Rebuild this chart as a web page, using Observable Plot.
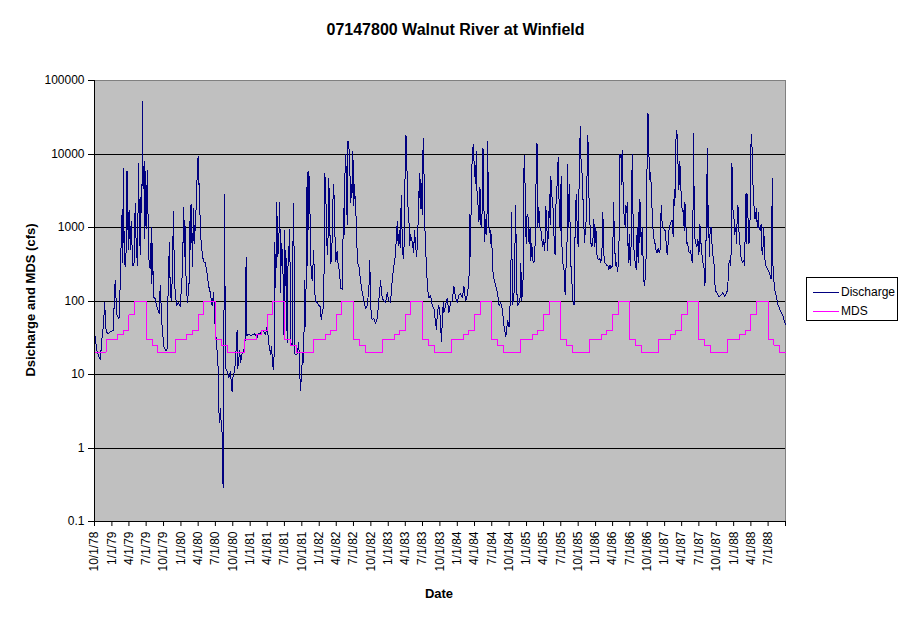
<!DOCTYPE html>
<html><head><meta charset="utf-8">
<script src="https://cdn.jsdelivr.net/npm/d3@7"></script>
<script src="https://cdn.jsdelivr.net/npm/@observablehq/plot@0.6"></script>
<style>
body{margin:0;background:#fff;font-family:Arial,"Liberation Sans",sans-serif;}
#wrap{position:relative;width:911px;height:623px;overflow:hidden;background:#fff}
#chart{position:absolute;left:0;top:0}
.t{position:absolute;font-weight:bold;color:#000;white-space:nowrap;font-family:Arial,"Liberation Sans",sans-serif}
#legend{position:absolute;left:806px;top:277px;width:90px;height:42px;border:1px solid #000;background:#fff;font-size:12px;font-family:Arial,"Liberation Sans",sans-serif}
#legend .row{position:absolute;left:6px;height:14px;line-height:14px}
#legend .sw{display:inline-block;width:26px;height:0;border-top:1px solid;vertical-align:middle;margin-right:2px}
</style></head><body>
<div id="wrap">
  <div id="chart"></div>
  <div class="t" style="left:0;width:911px;text-align:center;top:21px;font-size:16px">07147800 Walnut River at Winfield</div>
  <div class="t" style="left:30px;top:300px;font-size:13px;transform:translate(-50%,-50%) rotate(-90deg)">Dsicharge and MDS (cfs)</div>
  <div class="t" style="left:439px;top:586px;font-size:13px;transform:translateX(-50%)">Date</div>
  <div id="legend">
    <div class="row" style="top:7px"><span class="sw" style="border-color:#000080"></span>Discharge</div>
    <div class="row" style="top:26px"><span class="sw" style="border-color:#FF00FF"></span>MDS</div>
  </div>
</div>
<script>
// Tick labels
const xTickLabels = ["10/1/78","1/1/79","4/1/79","7/1/79","10/1/79","1/1/80","4/1/80","7/1/80","10/1/80","1/1/81","4/1/81","7/1/81","10/1/81","1/1/82","4/1/82","7/1/82","10/1/82","1/1/83","4/1/83","7/1/83","10/1/83","1/1/84","4/1/84","7/1/84","10/1/84","1/1/85","4/1/85","7/1/85","10/1/85","1/1/86","4/1/86","7/1/86","10/1/86","1/1/87","4/1/87","7/1/87","10/1/87","1/1/88","4/1/88","7/1/88"];
const xEndLabel = "10/1/88";
const yTicks = [0.1, 1, 10, 100, 1000, 10000, 100000];
const yGrid = [1, 10, 100, 1000, 10000];

// MDS schedule by month of water year (Oct..Sep), cfs
const mdsMonths = ["Oct","Nov","Dec","Jan","Feb","Mar","Apr","May","Jun","Jul","Aug","Sep"];
const mdsCfs =    [20,   20,   30,   30,   35,   40,   65,   100,  100,  30,   25,   20];
const waterYears = [1979,1980,1981,1982,1983,1984,1985,1986,1987,1988];

// Daily discharge (cfs); [decimal year, cfs]
const wy1979 = [[1978.753,35],[1978.782,21],[1978.808,18],[1978.830,16],[1978.844,22],[1978.854,30],[1978.878,47],[1978.895,95],[1978.917,38],[1978.946,36],[1978.975,38],[1979.018,40],[1979.047,190],[1979.072,65],[1979.095,58],[1979.110,60],[1979.120,190],[1979.127,270],[1979.134,680],[1979.149,1780],[1979.159,330],[1979.168,6300],[1979.178,450],[1979.192,290],[1979.207,500],[1979.217,5800],[1979.226,5600],[1979.236,500],[1979.246,1600],[1979.255,1700],[1979.265,500],[1979.279,1200],[1979.294,500],[1979.304,300],[1979.323,330],[1979.337,2100],[1979.352,560],[1979.371,300],[1979.385,7400],[1979.395,1800],[1979.410,430],[1979.424,3800],[1979.434,1600],[1979.443,51000],[1979.453,3400],[1979.468,8000],[1979.478,700],[1979.487,5800],[1979.497,980],[1979.507,3400],[1979.516,6000],[1979.526,850],[1979.540,310],[1979.555,280],[1979.574,1000],[1979.579,175],[1979.588,600],[1979.603,112],[1979.627,108],[1979.652,83],[1979.685,68],[1979.700,165],[1979.724,50],[1979.743,30]];
const wy1980 = [[1979.757,23],[1979.786,21],[1979.805,23],[1979.815,190],[1979.834,620],[1979.844,150],[1979.859,100],[1979.873,190],[1979.892,1650],[1979.902,340],[1979.917,120],[1979.941,87],[1979.960,95],[1979.989,84],[1980.014,194],[1980.025,300],[1980.037,1900],[1980.047,400],[1980.057,1250],[1980.076,160],[1980.095,95],[1980.120,190],[1980.134,2000],[1980.144,500],[1980.153,2050],[1980.168,290],[1980.182,1800],[1980.197,600],[1980.211,1450],[1980.226,2100],[1980.236,7100],[1980.250,9400],[1980.260,3800],[1980.269,4000],[1980.279,850],[1980.294,620],[1980.308,430],[1980.318,380],[1980.337,330],[1980.352,330],[1980.376,240],[1980.400,160],[1980.424,130],[1980.449,87],[1980.472,130],[1980.497,39],[1980.511,30],[1980.526,18],[1980.540,11],[1980.545,3.6],[1980.559,2.2],[1980.569,3.5],[1980.584,2.0],[1980.594,1.6],[1980.603,1.0],[1980.608,0.29],[1980.617,1.5],[1980.627,2800],[1980.635,300],[1980.642,12.6],[1980.666,11],[1980.690,9],[1980.714,11],[1980.739,5.8],[1980.753,9.5]];
const wy1981 = [[1980.772,11],[1980.786,14.5],[1980.811,40],[1980.820,12],[1980.849,21.5],[1980.859,14.5],[1980.883,19],[1980.907,21],[1980.931,32],[1980.941,390],[1980.950,34],[1980.975,35],[1981.018,34],[1981.062,36],[1981.101,32],[1981.124,36],[1981.149,36],[1981.173,40],[1981.197,38],[1981.221,35],[1981.246,45],[1981.269,27],[1981.294,19],[1981.308,24],[1981.333,12],[1981.342,11.5],[1981.352,40],[1981.356,620],[1981.371,150],[1981.385,2200],[1981.400,400],[1981.414,600],[1981.429,2200],[1981.439,130],[1981.453,600],[1981.472,420],[1981.487,35],[1981.501,900],[1981.511,160],[1981.518,460],[1981.536,27],[1981.545,260],[1981.574,930],[1981.584,27],[1981.608,25],[1981.617,460],[1981.632,2100],[1981.642,19],[1981.681,19],[1981.704,27],[1981.719,10],[1981.729,6],[1981.753,14.5]];
const wy1982 = [[1981.767,21],[1981.776,14.5],[1981.786,190],[1981.801,45],[1981.815,360],[1981.825,5600],[1981.834,300],[1981.844,5800],[1981.859,4500],[1981.873,620],[1981.883,250],[1981.898,190],[1981.921,480],[1981.931,150],[1981.946,100],[1981.970,95],[1981.994,87],[1982.018,84],[1982.028,55],[1982.043,70],[1982.066,87],[1982.081,5500],[1982.095,3000],[1982.110,600],[1982.124,430],[1982.139,4700],[1982.153,1000],[1982.168,320],[1982.182,430],[1982.197,2200],[1982.211,3800],[1982.226,900],[1982.240,340],[1982.260,480],[1982.275,300],[1982.294,260],[1982.308,150],[1982.333,145],[1982.342,500],[1982.352,1800],[1982.366,800],[1982.376,10000],[1982.391,6300],[1982.405,1100],[1982.414,14700],[1982.429,14700],[1982.439,6300],[1982.449,4500],[1982.458,2200],[1982.468,3800],[1982.478,3000],[1982.487,11000],[1982.501,2000],[1982.511,3800],[1982.521,2400],[1982.530,1800],[1982.540,800],[1982.555,330],[1982.574,300],[1982.598,190],[1982.613,150],[1982.646,100],[1982.671,80],[1982.695,87],[1982.719,145],[1982.733,360],[1982.743,87]];
const wy1983 = [[1982.767,55],[1982.791,58],[1982.815,50],[1982.840,58],[1982.863,100],[1982.888,190],[1982.912,110],[1982.936,100],[1982.960,95],[1982.985,130],[1983.008,100],[1983.033,95],[1983.057,190],[1983.081,300],[1983.095,360],[1983.115,640],[1983.130,1200],[1983.144,560],[1983.159,900],[1983.173,530],[1983.188,2700],[1983.197,1100],[1983.211,430],[1983.226,380],[1983.240,3400],[1983.255,18000],[1983.265,17000],[1983.275,3400],[1983.284,2000],[1983.298,1500],[1983.308,560],[1983.323,800],[1983.337,700],[1983.352,600],[1983.366,460],[1983.381,900],[1983.395,600],[1983.410,400],[1983.424,650],[1983.443,2700],[1983.453,5500],[1983.463,1800],[1983.472,4500],[1983.482,2600],[1983.492,1500],[1983.501,10000],[1983.511,16000],[1983.526,1400],[1983.540,500],[1983.555,300],[1983.565,160],[1983.588,110],[1983.613,120],[1983.637,87],[1983.661,80],[1983.685,50],[1983.700,41],[1983.710,70],[1983.733,87]];
const wy1984 = [[1983.758,55],[1983.768,28],[1983.782,50],[1983.796,95],[1983.805,70],[1983.830,87],[1983.854,110],[1983.878,70],[1983.902,95],[1983.927,100],[1983.950,160],[1983.975,110],[1983.999,95],[1984.022,120],[1984.047,125],[1984.072,110],[1984.095,160],[1984.120,100],[1984.144,120],[1984.168,190],[1984.182,1500],[1984.192,400],[1984.202,3300],[1984.211,7000],[1984.226,12500],[1984.236,13500],[1984.246,5000],[1984.255,7500],[1984.265,4000],[1984.275,11000],[1984.284,3200],[1984.294,2300],[1984.304,1800],[1984.313,1200],[1984.323,3500],[1984.333,3100],[1984.342,1100],[1984.352,1000],[1984.362,2400],[1984.371,12000],[1984.381,4000],[1984.391,650],[1984.400,800],[1984.410,1300],[1984.420,800],[1984.429,1500],[1984.439,14700],[1984.449,1800],[1984.458,1000],[1984.468,850],[1984.478,900],[1984.487,600],[1984.497,800],[1984.507,300],[1984.516,250],[1984.530,200],[1984.555,160],[1984.579,130],[1984.603,87],[1984.627,95],[1984.652,75],[1984.675,45],[1984.700,33],[1984.714,40],[1984.724,55],[1984.747,45]];
const wy1985 = [[1984.762,87],[1984.772,150],[1984.782,1600],[1984.791,320],[1984.801,90],[1984.820,130],[1984.844,2000],[1984.854,190],[1984.869,87],[1984.892,95],[1984.907,110],[1984.917,320],[1984.931,100],[1984.950,200],[1984.965,9500],[1984.979,3800],[1984.994,600],[1985.008,1500],[1985.022,1400],[1985.037,600],[1985.052,1000],[1985.062,360],[1985.076,600],[1985.091,360],[1985.105,330],[1985.120,400],[1985.134,2000],[1985.144,14000],[1985.153,13500],[1985.163,1000],[1985.178,1900],[1985.192,1000],[1985.207,950],[1985.221,700],[1985.236,550],[1985.250,680],[1985.265,480],[1985.279,1950],[1985.294,1100],[1985.304,480],[1985.318,1000],[1985.333,2800],[1985.342,1100],[1985.352,4900],[1985.366,2800],[1985.381,2000],[1985.391,1400],[1985.400,620],[1985.414,420],[1985.429,2800],[1985.443,3800],[1985.458,8900],[1985.472,2000],[1985.487,900],[1985.501,4900],[1985.511,620],[1985.526,330],[1985.545,260],[1985.559,120],[1985.569,280],[1985.584,300],[1985.594,7200],[1985.608,1000],[1985.623,3800],[1985.637,330],[1985.652,260],[1985.666,105],[1985.690,88],[1985.704,1000],[1985.719,2800],[1985.733,1100],[1985.747,550]];
const wy1986 = [[1985.757,2000],[1985.767,11000],[1985.782,24000],[1985.791,6300],[1985.801,5800],[1985.811,4500],[1985.820,2000],[1985.830,1100],[1985.840,620],[1985.854,1000],[1985.869,1400],[1985.883,18000],[1985.892,14000],[1985.902,3000],[1985.917,1200],[1985.931,620],[1985.946,550],[1985.960,620],[1985.975,1300],[1985.989,550],[1986.004,1000],[1986.018,430],[1986.033,380],[1986.047,360],[1986.062,380],[1986.076,330],[1986.091,430],[1986.105,1600],[1986.120,430],[1986.134,330],[1986.149,320],[1986.163,300],[1986.178,300],[1986.192,270],[1986.207,310],[1986.221,280],[1986.246,300],[1986.260,2200],[1986.275,620],[1986.289,300],[1986.304,330],[1986.318,250],[1986.337,380],[1986.352,9800],[1986.362,9000],[1986.371,10000],[1986.381,3800],[1986.391,11000],[1986.400,2800],[1986.410,1600],[1986.420,1300],[1986.429,1000],[1986.439,2000],[1986.449,1600],[1986.458,2200],[1986.468,620],[1986.478,330],[1986.487,800],[1986.501,300],[1986.516,620],[1986.530,9800],[1986.545,1000],[1986.559,430],[1986.574,330],[1986.588,270],[1986.603,1000],[1986.617,330],[1986.632,2400],[1986.642,620],[1986.652,2200],[1986.661,430],[1986.675,1000],[1986.690,330],[1986.704,160],[1986.719,200],[1986.733,430],[1986.747,10000]];
const wy1987 = [[1986.757,36000],[1986.767,30000],[1986.776,6300],[1986.786,4500],[1986.796,5600],[1986.805,3800],[1986.815,2200],[1986.825,1000],[1986.840,900],[1986.849,620],[1986.863,600],[1986.878,480],[1986.892,450],[1986.907,520],[1986.921,450],[1986.936,500],[1986.950,2000],[1986.965,1100],[1986.979,1000],[1986.994,950],[1987.008,900],[1987.022,620],[1987.037,430],[1987.052,620],[1987.066,1000],[1987.081,1100],[1987.095,1200],[1987.110,1250],[1987.124,750],[1987.139,3300],[1987.149,2000],[1987.159,10000],[1987.168,20000],[1987.178,21000],[1987.188,10000],[1987.197,6300],[1987.207,3300],[1987.217,8000],[1987.226,6300],[1987.236,3300],[1987.246,2300],[1987.255,1650],[1987.269,1700],[1987.284,900],[1987.294,2200],[1987.304,1400],[1987.318,600],[1987.333,620],[1987.347,480],[1987.362,450],[1987.376,480],[1987.391,370],[1987.405,330],[1987.420,19000],[1987.429,1400],[1987.439,700],[1987.453,600],[1987.468,550],[1987.482,700],[1987.497,430],[1987.511,1100],[1987.526,620],[1987.540,430],[1987.555,330],[1987.569,300],[1987.584,160],[1987.598,620],[1987.608,1000],[1987.617,12000],[1987.627,1000],[1987.637,2000],[1987.646,400],[1987.661,1000],[1987.675,1000],[1987.690,500],[1987.704,380],[1987.719,300],[1987.733,140]];
const wy1988 = [[1987.757,130],[1987.786,115],[1987.815,120],[1987.844,130],[1987.873,115],[1987.912,140],[1987.931,330],[1987.946,360],[1987.960,300],[1987.975,7500],[1987.985,2000],[1987.994,1600],[1988.004,1400],[1988.014,800],[1988.023,1000],[1988.033,900],[1988.043,600],[1988.052,1800],[1988.062,2000],[1988.072,1000],[1988.086,700],[1988.101,430],[1988.115,360],[1988.130,330],[1988.144,360],[1988.159,300],[1988.173,2800],[1988.182,600],[1988.192,2900],[1988.202,2000],[1988.211,1000],[1988.221,600],[1988.231,800],[1988.240,1800],[1988.250,13500],[1988.260,18700],[1988.269,9000],[1988.279,3800],[1988.289,2200],[1988.298,1800],[1988.308,1300],[1988.318,1450],[1988.327,1800],[1988.337,1200],[1988.347,1000],[1988.356,1600],[1988.366,1000],[1988.385,900],[1988.395,1100],[1988.405,500],[1988.420,430],[1988.434,1000],[1988.449,380],[1988.468,300],[1988.492,270],[1988.511,250],[1988.540,200],[1988.559,4600],[1988.565,330],[1988.588,150],[1988.612,120],[1988.637,90],[1988.660,80],[1988.685,70],[1988.709,65],[1988.728,55],[1988.749,48]];

// ---- build
const toDate = t => { const y = Math.floor(t); const a = Date.UTC(y,0,1), b = Date.UTC(y+1,0,1); return new Date(a + (t - y) * (b - a)); };
const parseMDY = s => { const [m,d,y] = s.split("/").map(Number); return new Date(Date.UTC(1900 + y, m - 1, d)); };

const discharge = [wy1979,wy1980,wy1981,wy1982,wy1983,wy1984,wy1985,wy1986,wy1987,wy1988].flat().map(([t,q]) => ({date: toDate(t), q}));

const mds = [];
for (const wy of waterYears) {
  mdsCfs.forEach((q, i) => {
    const m = (9 + i) % 12, y = i < 3 ? wy - 1 : wy;
    mds.push({date: new Date(Date.UTC(y, m, 1)), q});
  });
}
const xStart = parseMDY(xTickLabels[0]);
const xEnd = parseMDY(xEndLabel);
mds.push({date: xEnd, q: mdsCfs[mdsCfs.length - 1]});

const tickDates = xTickLabels.map(parseMDY).concat([xEnd]);
const labelOf = new Map(xTickLabels.map(s => [+parseMDY(s), s]));

const chart = Plot.plot({
  width: 911, height: 623,
  marginLeft: 94, marginRight: 126, marginTop: 80, marginBottom: 102,
  style: {fontFamily: 'Arial, "Liberation Sans", sans-serif', fontSize: "12px", background: "transparent", color: "#000", overflow: "visible"},
  x: {type: "utc", domain: [xStart, xEnd]},
  y: {type: "log", domain: [0.1, 100000]},
  marks: [
    Plot.frame({fill: "#C0C0C0", stroke: "#808080"}),
    Plot.gridY(yGrid, {stroke: "#000", strokeOpacity: 1, strokeWidth: 1, shapeRendering: "crispEdges"}),
    Plot.line(discharge, {x: "date", y: "q", stroke: "#000080", strokeWidth: 1, shapeRendering: "crispEdges"}),
    Plot.line(mds, {x: "date", y: "q", stroke: "#FF00FF", strokeWidth: 1, curve: "step-after", shapeRendering: "crispEdges"}),
    Plot.ruleX([xStart], {stroke: "#000", shapeRendering: "crispEdges"}),
    Plot.ruleY([0.1], {stroke: "#000", shapeRendering: "crispEdges"}),
    Plot.axisY(yTicks, {tickFormat: d => String(d), tickSize: 6, tickPadding: 4, label: null, fontSize: 12, shapeRendering: "crispEdges"}),
    Plot.axisX(tickDates, {tickFormat: d => labelOf.get(+d) || "", tickRotate: -90, tickSize: 5, tickPadding: 5, label: null, fontSize: 12})
  ]
});
document.getElementById("chart").appendChild(chart);
</script>
</body></html>
